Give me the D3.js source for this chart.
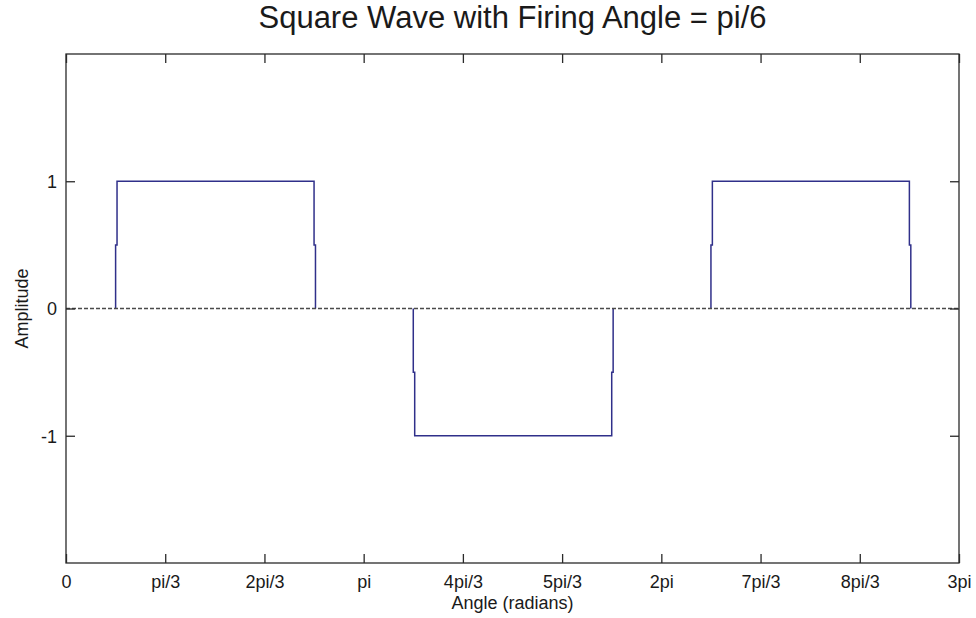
<!DOCTYPE html>
<html>
<head>
<meta charset="utf-8">
<script src="https://cdn.jsdelivr.net/npm/d3@7/dist/d3.min.js"></script>
<style>
  html, body { margin: 0; padding: 0; background: #fff; }
  text { font-family: Arial, "Liberation Sans", sans-serif; fill: #1a1a1a; }
</style>
</head>
<body>
<div id="chart"></div>
<script>
const PI = Math.PI;

// square wave: level changes at these angles (in multiples of pi)
const edgeAngles = [1 / 6, 5 / 6, 7 / 6, 11 / 6, 13 / 6, 17 / 6];
const levels = [0, 1, 0, -1, 0, 1, 0];
const edgeJog = 0.015; // small step at the half-way sample of each edge (rad)

const xTickMultiples = [0, 1, 2, 3, 4, 5, 6, 7, 8, 9]; // * pi/3
const xTickLabels = ["0", "pi/3", "2pi/3", "pi", "4pi/3", "5pi/3", "2pi", "7pi/3", "8pi/3", "3pi"];
const yTicks = [-1, 0, 1];
const xDomain = [0, 3 * PI];
const yDomain = [-2, 2];

const width = 976;
const height = 618;
const margin = { top: 54, right: 17, bottom: 55, left: 66 };

const svg = d3
  .select("#chart")
  .append("svg")
  .attr("width", width)
  .attr("height", height);

const x = d3.scaleLinear().domain(xDomain).range([margin.left, width - margin.right]);
const y = d3.scaleLinear().domain(yDomain).range([height - margin.bottom, margin.top]);

// build the wave points; zero-level stretches are left as gaps (the dashed
// zero line shows there)
const wave = [];
edgeAngles.forEach((m, i) => {
  const a = m * PI;
  const from = levels[i];
  const to = levels[i + 1];
  const mid = (from + to) / 2;
  if (from === 0) wave.push([NaN, NaN]);
  wave.push([a, from], [a, mid], [a + edgeJog, mid], [a + edgeJog, to]);
});

const line = d3
  .line()
  .defined((d) => !isNaN(d[0]))
  .x((d) => x(d[0]))
  .y((d) => y(d[1]));
svg
  .append("path")
  .datum(wave)
  .attr("d", line)
  .attr("fill", "none")
  .attr("stroke", "#30308a")
  .attr("stroke-width", 1.5);

// zero reference line
svg
  .append("line")
  .attr("x1", x(xDomain[0]))
  .attr("x2", x(xDomain[1]))
  .attr("y1", y(0))
  .attr("y2", y(0))
  .attr("stroke", "#4a4a4a")
  .attr("stroke-width", 1.3)
  .attr("stroke-dasharray", "4,2");

// axes box
svg
  .append("rect")
  .attr("x", margin.left)
  .attr("y", margin.top)
  .attr("width", width - margin.left - margin.right)
  .attr("height", height - margin.top - margin.bottom)
  .attr("fill", "none")
  .attr("stroke", "#2a2a2a")
  .attr("stroke-width", 1.3);

const xTickVals = xTickMultiples.map((k) => (k * PI) / 3);
const tickLen = 9;

const xBottom = svg
  .append("g")
  .attr("transform", `translate(0,${height - margin.bottom})`)
  .call(
    d3.axisBottom(x)
      .tickValues(xTickVals)
      .tickFormat((d, i) => xTickLabels[i])
      .tickSizeInner(-tickLen)
      .tickSizeOuter(0)
      .tickPadding(12)
  );
const xTop = svg
  .append("g")
  .attr("transform", `translate(0,${margin.top})`)
  .call(d3.axisTop(x).tickValues(xTickVals).tickFormat("").tickSizeInner(-tickLen).tickSizeOuter(0));

const yLeft = svg
  .append("g")
  .attr("transform", `translate(${margin.left},0)`)
  .call(
    d3.axisLeft(y)
      .tickValues(yTicks)
      .tickFormat((d) => String(d))
      .tickSizeInner(-tickLen)
      .tickSizeOuter(0)
      .tickPadding(9)
  );
const yRight = svg
  .append("g")
  .attr("transform", `translate(${width - margin.right},0)`)
  .call(d3.axisRight(y).tickValues(yTicks).tickFormat("").tickSizeInner(-tickLen).tickSizeOuter(0));

[xBottom, xTop, yLeft, yRight].forEach((g) => {
  g.select(".domain").remove();
  g.selectAll(".tick line").attr("stroke", "#2a2a2a").attr("stroke-width", 1.3);
  g.selectAll(".tick text")
    .attr("font-size", 18)
    .attr("font-family", "Arial, 'Liberation Sans', sans-serif")
    .attr("fill", "#1a1a1a");
});
yLeft.selectAll(".tick text").attr("dy", "0.35em");

// title and labels
svg
  .append("text")
  .attr("x", (margin.left + width - margin.right) / 2)
  .attr("y", 28)
  .attr("text-anchor", "middle")
  .attr("font-size", 31)
  .text("Square Wave with Firing Angle = pi/6");

svg
  .append("text")
  .attr("x", (margin.left + width - margin.right) / 2)
  .attr("y", 609)
  .attr("text-anchor", "middle")
  .attr("font-size", 18)
  .text("Angle (radians)");

svg
  .append("text")
  .attr("transform", `translate(28,${(margin.top + height - margin.bottom) / 2}) rotate(-90)`)
  .attr("text-anchor", "middle")
  .attr("font-size", 18)
  .text("Amplitude");
</script>
</body>
</html>
